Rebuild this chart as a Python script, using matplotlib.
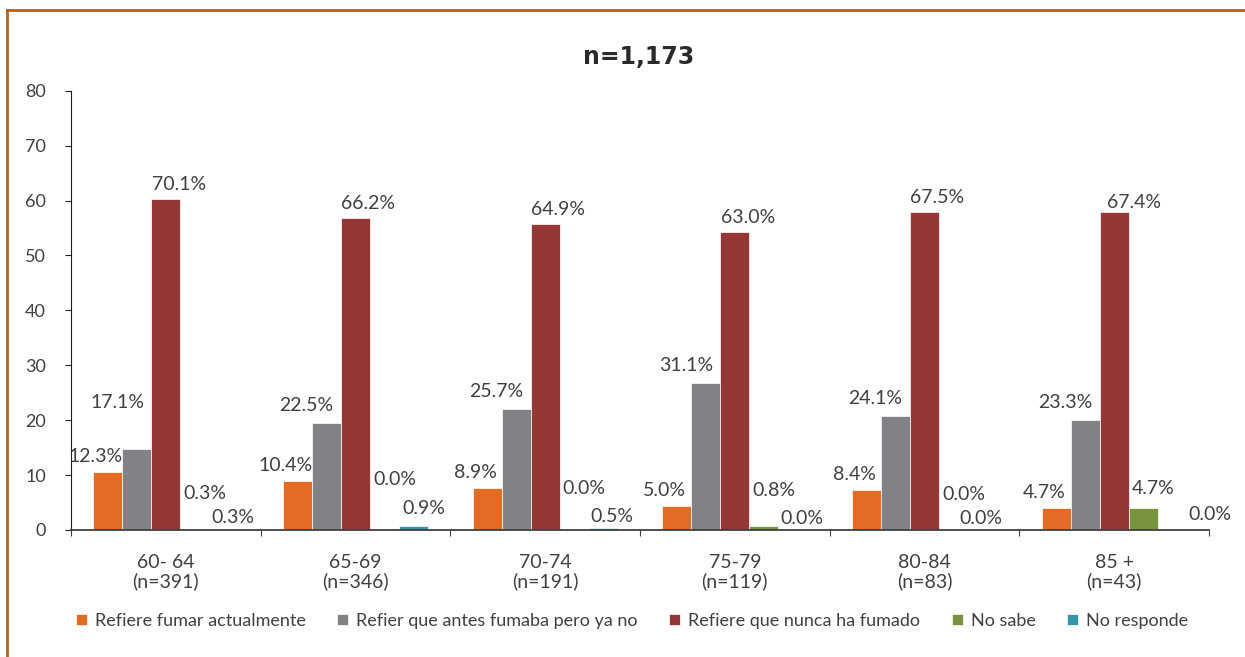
import matplotlib.pyplot as plt
from matplotlib.lines import Line2D

plt.rcParams['font.family'] = ['Lato', 'DejaVu Sans']

# -- Datos --
grupos = ['60- 64\n(n=391)', '65-69\n(n=346)', '70-74\n(n=191)',
          '75-79\n(n=119)', '80-84\n(n=83)', '85 +\n(n=43)']
series = ['Refiere fumar actualmente', 'Refier que antes fumaba pero ya no',
          'Refiere que nunca ha fumado', 'No sabe', 'No responde']

# alturas de las barras (tal como están dibujadas en la escala 0-80)
fuma_actual   = [10.6, 9.0, 7.6, 4.4, 7.3, 4.0]
fumaba_antes  = [14.7, 19.4, 22.1, 26.7, 20.7, 20.0]
nunca_fumado  = [60.2, 56.9, 55.8, 54.2, 58.0, 58.0]
no_sabe       = [0.25, 0.0, 0.0, 0.7, 0.0, 4.0]
no_responde   = [0.25, 0.7, 0.42, 0.0, 0.0, 0.0]

# etiquetas de porcentaje que muestra el gráfico
lbl_fuma_actual  = ['12.3%', '10.4%', '8.9%', '5.0%', '8.4%', '4.7%']
lbl_fumaba_antes = ['17.1%', '22.5%', '25.7%', '31.1%', '24.1%', '23.3%']
lbl_nunca_fumado = ['70.1%', '66.2%', '64.9%', '63.0%', '67.5%', '67.4%']
lbl_no_sabe      = ['0.3%', '0.0%', '0.0%', '0.8%', '0.0%', '4.7%']
lbl_no_responde  = ['0.3%', '0.9%', '0.5%', '0.0%', '0.0%', '0.0%']

alturas = [fuma_actual, fumaba_antes, nunca_fumado, no_sabe, no_responde]
etiquetas = [lbl_fuma_actual, lbl_fumaba_antes, lbl_nunca_fumado, lbl_no_sabe, lbl_no_responde]
cores = ['#E36C25', '#808285', '#953735', '#77933C', '#3395A8']

# desplazamiento de cada etiqueta (pixeles) por serie, y algunos ajustes manuales
desloc = [(-12, 7), (-20, 9), (13, 6), (10, 27), (9, 3)]
ajustes = {(1, 0): (-19, 38), (2, 5): (20, 1),
           (3, 1): (10, 42), (3, 2): (10, 33), (3, 5): (10, 11),
           (4, 1): (10, 9), (4, 4): (-2, 3), (4, 5): (38, 7)}

texto = '#404040'
fig = plt.figure(figsize=(12.45, 6.57), dpi=100)
ax = fig.add_axes([71/1245, 1 - 530/657, 1138/1245, 439.3/657])

largura = 0.153
x = list(range(len(grupos)))
for k, (vals, lbls) in enumerate(zip(alturas, etiquetas)):
    pos = [i + (k - 2) * largura for i in x]
    ax.bar(pos, vals, width=largura, color=cores[k], edgecolor='white',
           linewidth=0.5, label=series[k])
    for i, (p, v, t) in enumerate(zip(pos, vals, lbls)):
        dx, dy = ajustes.get((k, i), desloc[k])
        ax.annotate(t, (p, v), xytext=(dx, dy), textcoords='offset pixels',
                    ha='center', va='bottom', fontsize=14, color=texto)

ax.set_xlim(-0.5, len(grupos) - 0.5)
ax.set_ylim(0, 80)
ax.set_yticks(range(0, 81, 10))
ax.set_xticks([i - 0.5 for i in range(len(grupos) + 1)], minor=False)
ax.set_xticklabels([])
ax.set_xticks(x, minor=True)
ax.set_xticklabels(grupos, minor=True, fontsize=14, color=texto, linespacing=1.1)
ax.tick_params(axis='x', which='minor', length=0, pad=17)
ax.tick_params(axis='x', which='major', length=4, direction='out', color='#404040')
ax.tick_params(axis='y', length=4, direction='out', labelsize=13, labelcolor=texto,
               pad=14, color='#202020')
for s in ['top', 'right']:
    ax.spines[s].set_visible(False)
ax.spines['left'].set_color('#202020')
ax.spines['bottom'].set_color('#404040')
ax.spines['bottom'].set_linewidth(1.3)

fig.text(639/1245, 1 - 57/657, 'n=1,173', ha='center', va='center',
         fontsize=17, fontweight='bold', color='#2a2a2a', family=['DejaVu Sans'])

fig.legend(loc='center', bbox_to_anchor=(632/1245, 1 - 621/657), ncol=5,
           frameon=False, fontsize=13, labelcolor=texto, handlelength=0.6,
           handleheight=0.6, handletextpad=0.45, columnspacing=1.75,
           borderpad=0, borderaxespad=0)

# moldura laranja (só topo e lado esquerdo)
borda = '#B5601C'
fig.add_artist(Line2D([7/1245, 1], [1 - 10/657, 1 - 10/657], color=borda, lw=2))
fig.add_artist(Line2D([7/1245, 7/1245], [0, 1 - 10/657], color=borda, lw=2))

plt.savefig('out.png', dpi=100)
